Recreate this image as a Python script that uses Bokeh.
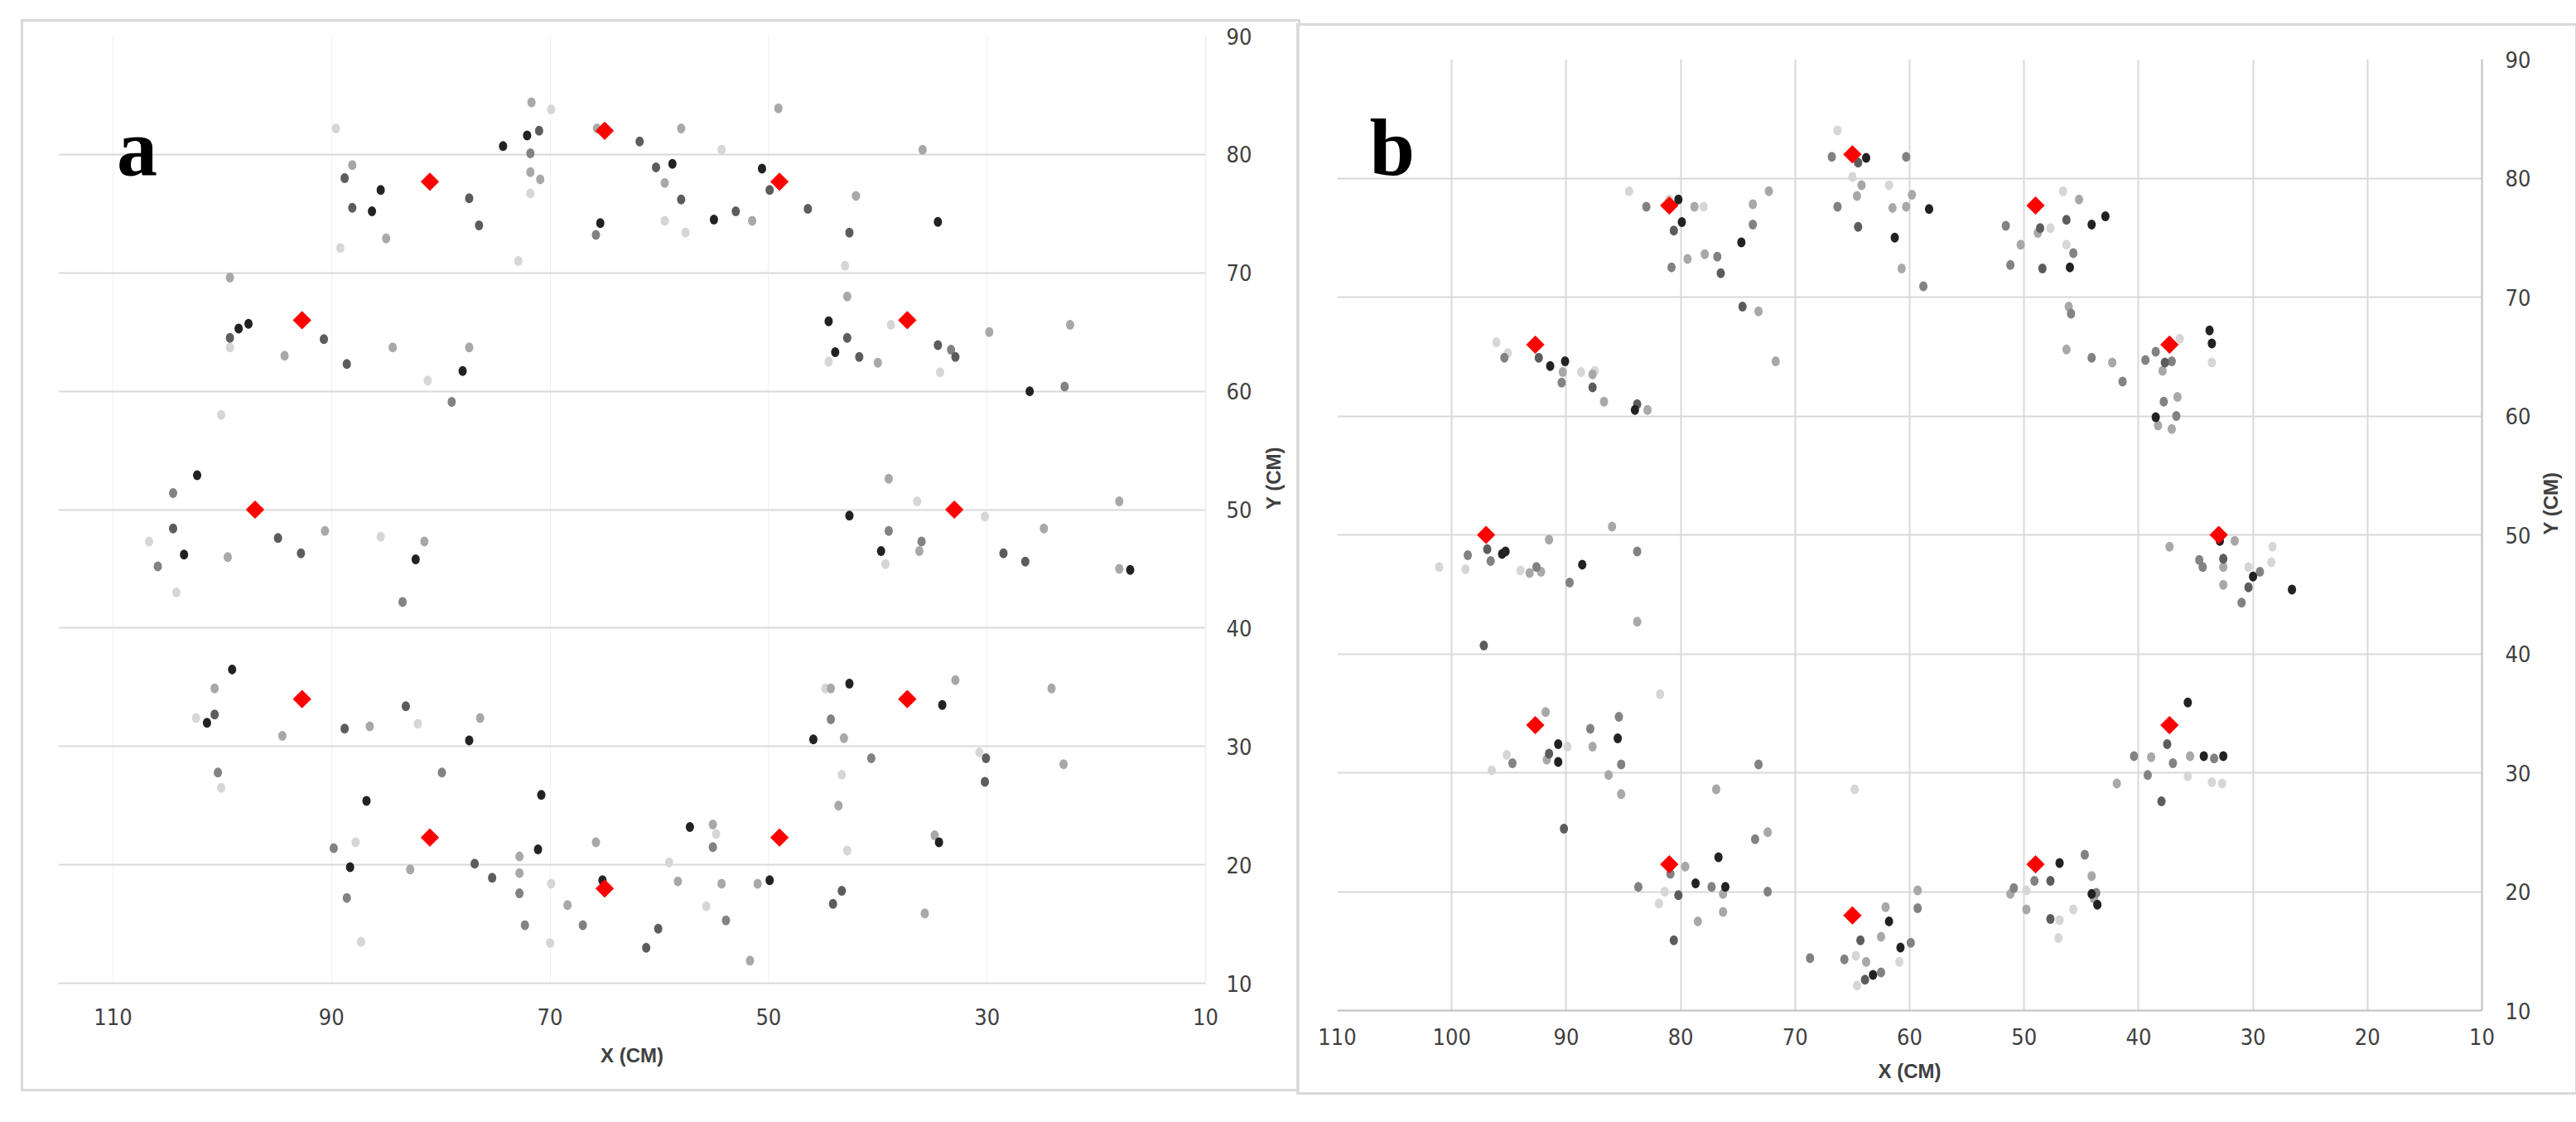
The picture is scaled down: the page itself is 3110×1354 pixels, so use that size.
import math
from bokeh.plotting import figure
from bokeh.models import FixedTicker, Range1d
from bokeh.core.properties import value
from bokeh.embed import file_html
from bokeh.resources import INLINE

# ---------------- data ----------------
# target positions (red diamonds), identical in both panels
TARGET_X = [65.0, 81.0, 49.0, 92.7, 37.3, 97.0, 33.0, 92.7, 37.3, 81.0, 49.0, 65.0]
TARGET_Y = [82.0, 77.7, 77.7, 66.0, 66.0, 50.0, 50.0, 34.0, 34.0, 22.3, 22.3, 18.0]

# panel a: responses grouped by grey shade (x, y) in cm
A_LIGHT = [(69.9, 83.8), (89.6, 82.2), (89.2, 72.1), (71.8, 76.7), (72.9, 71.0), (99.3, 63.7),
           (81.2, 60.9), (100.1, 58.0), (54.3, 80.4), (59.5, 74.4), (57.6, 73.4), (43.0, 70.6),
           (44.5, 62.5), (38.8, 65.6), (34.3, 61.6), (36.4, 50.7), (30.2, 49.4), (106.7, 47.3),
           (104.2, 43.0), (85.5, 47.7), (102.4, 32.4), (100.1, 26.5), (82.1, 31.9), (87.8, 21.9),
           (87.3, 13.5), (69.9, 18.4), (70.0, 13.4), (39.3, 45.4), (44.8, 34.9), (30.7, 29.5),
           (43.3, 27.6), (42.8, 21.2), (54.8, 22.6), (59.1, 20.2), (55.7, 16.5)]
A_MID = [(71.7, 84.4), (65.7, 82.2), (88.1, 79.1), (85.0, 72.9), (71.8, 78.5), (70.9, 77.9),
         (99.3, 69.6), (94.3, 63.0), (84.4, 63.7), (77.4, 63.7), (58.0, 82.2), (49.1, 83.9),
         (35.9, 80.4), (59.5, 77.6), (51.5, 74.4), (42.0, 76.5), (42.8, 68.0), (40.0, 62.4),
         (29.8, 65.0), (22.4, 65.6), (39.0, 52.6), (17.9, 50.7), (99.5, 46.0), (90.6, 48.2),
         (81.5, 47.3), (100.7, 34.9), (94.5, 30.9), (86.5, 31.7), (76.4, 32.4), (82.8, 19.6),
         (72.8, 20.7), (72.8, 19.3), (68.4, 16.6), (65.8, 21.9), (36.2, 46.5), (24.8, 48.4),
         (17.9, 45.0), (44.3, 34.9), (32.9, 35.6), (24.1, 34.9), (43.1, 30.7), (23.0, 28.5),
         (43.6, 25.0), (34.8, 22.5), (55.1, 23.4), (58.3, 18.6), (54.3, 18.4), (51.0, 18.4),
         (51.7, 11.9), (35.7, 15.9)]
A_DARKMID = [(71.8, 80.1), (65.8, 73.2), (79.0, 59.1), (104.5, 51.4), (33.3, 63.5), (22.9, 60.4),
             (105.9, 45.2), (83.5, 42.2), (100.4, 27.8), (79.9, 27.8), (89.8, 21.4), (88.6, 17.2),
             (72.8, 17.6), (72.3, 14.9), (67.0, 14.9), (39.0, 48.2), (36.0, 47.3), (44.3, 32.3),
             (40.6, 29.0), (55.1, 21.5), (53.9, 15.3)]
A_DARK = [(71.0, 82.0), (88.8, 78.0), (88.1, 75.5), (77.4, 76.3), (76.5, 74.0), (99.3, 64.5),
          (90.7, 64.4), (88.6, 62.3), (61.8, 81.1), (60.3, 78.9), (58.0, 76.2), (53.0, 75.2),
          (49.9, 77.0), (46.4, 75.4), (42.6, 73.4), (42.8, 64.5), (41.7, 62.9), (34.5, 63.9),
          (32.9, 62.9), (104.5, 48.4), (94.9, 47.6), (92.8, 46.3), (100.7, 32.7), (88.8, 31.5),
          (83.2, 33.4), (76.9, 20.1), (75.3, 18.9), (28.5, 46.3), (26.5, 45.6), (30.1, 29.0),
          (30.2, 27.0), (60.1, 14.6), (61.2, 13.0), (43.3, 17.8), (44.1, 16.7)]
A_BLACK = [(72.1, 81.6), (74.3, 80.7), (85.5, 77.0), (86.3, 75.2), (65.4, 74.2), (97.6, 65.7),
           (98.5, 65.3), (78.0, 61.7), (102.3, 52.9), (58.8, 79.2), (55.0, 74.5), (50.6, 78.8),
           (34.5, 74.3), (44.5, 65.9), (43.9, 63.3), (26.1, 60.0), (42.6, 49.5), (103.5, 46.2),
           (82.3, 45.8), (99.1, 36.5), (101.4, 32.0), (77.4, 30.5), (86.8, 25.4), (88.3, 19.8),
           (70.8, 25.9), (71.1, 21.3), (65.2, 18.7), (39.7, 46.5), (16.9, 44.9), (42.6, 35.3),
           (34.1, 33.5), (45.9, 30.6), (34.4, 21.9), (57.2, 23.2), (49.9, 18.7)]

# panel b
B_LIGHT = [(66.3, 84.0), (65.0, 80.1), (61.8, 79.4), (84.5, 78.9), (81.0, 78.2), (78.0, 77.6),
           (96.1, 66.2), (95.1, 65.3), (88.7, 63.7), (87.5, 63.8), (46.6, 78.9), (47.7, 75.8),
           (46.3, 74.4), (36.4, 66.5), (33.6, 64.5), (101.1, 47.3), (98.8, 47.1), (94.0, 47.0),
           (81.8, 36.6), (89.9, 32.2), (95.2, 31.5), (96.5, 30.2), (64.8, 28.6), (81.4, 20.0),
           (81.9, 19.0), (64.7, 14.6), (64.6, 12.1), (60.9, 14.1), (28.3, 49.0), (30.4, 47.3),
           (28.4, 47.7), (35.7, 29.7), (33.6, 29.2), (32.7, 29.1), (49.8, 20.1), (46.9, 17.6),
           (47.0, 16.1), (45.7, 18.5)]
B_MID = [(64.2, 79.4), (64.6, 78.5), (61.5, 77.5), (60.7, 72.4), (78.8, 77.6), (79.4, 73.2),
         (77.9, 73.6), (73.7, 77.8), (72.3, 78.9), (73.2, 68.8), (71.7, 64.6), (90.3, 63.7),
         (87.7, 63.5), (86.7, 61.2), (82.9, 60.5), (86.0, 50.7), (59.8, 78.6), (60.3, 77.6),
         (45.2, 78.2), (48.8, 75.4), (50.3, 74.4), (46.1, 69.2), (46.3, 65.6), (42.3, 64.5),
         (37.9, 63.8), (36.6, 61.6), (38.3, 59.2), (37.1, 58.9), (91.5, 49.6), (93.2, 46.8),
         (92.2, 46.9), (83.8, 42.7), (91.8, 35.1), (87.7, 32.2), (91.7, 31.1), (86.3, 29.8),
         (85.2, 28.2), (76.9, 28.6), (72.4, 25.0), (79.6, 22.1), (76.3, 19.8), (76.3, 18.3),
         (78.5, 17.5), (62.1, 18.7), (62.5, 16.2), (63.8, 14.1), (31.6, 49.5), (37.3, 49.0),
         (32.6, 47.3), (32.6, 45.8), (38.9, 31.3), (35.5, 31.4), (41.9, 29.1), (44.1, 21.3),
         (51.2, 19.8), (49.8, 18.5), (43.9, 19.4), (59.3, 20.1)]
B_DARKMID = [(66.8, 81.8), (66.3, 77.6), (83.0, 77.6), (80.8, 72.5), (76.8, 73.4), (73.7, 76.1),
             (95.4, 64.9), (90.4, 62.8), (60.3, 81.8), (58.8, 70.9), (51.6, 76.0), (45.7, 73.7),
             (51.2, 72.7), (45.9, 68.6), (44.1, 64.9), (41.4, 62.9), (39.4, 64.7), (38.5, 65.4),
             (37.1, 64.6), (37.8, 61.2), (36.7, 60.0), (98.6, 48.3), (96.6, 47.8), (92.6, 47.3),
             (83.8, 48.6), (89.7, 46.0), (85.4, 34.7), (87.9, 33.7), (94.7, 30.8), (85.2, 30.7),
             (73.2, 30.7), (73.5, 24.4), (80.9, 21.5), (83.7, 20.4), (77.3, 20.4), (72.4, 20.0),
             (68.7, 14.4), (65.7, 14.3), (62.5, 13.2), (34.7, 47.9), (34.4, 47.3), (29.4, 46.9),
             (31.0, 44.3), (40.4, 31.4), (37.0, 30.8), (33.4, 31.2), (39.2, 29.8), (44.7, 23.1),
             (49.1, 20.9), (50.9, 20.3), (43.7, 19.9), (59.3, 18.6), (59.9, 15.7)]
B_DARK = [(64.5, 81.3), (64.5, 75.9), (80.6, 75.6), (76.5, 72.0), (74.6, 69.2), (92.4, 64.9),
          (87.7, 62.4), (83.8, 61.0), (48.6, 75.8), (46.3, 76.5), (48.4, 72.4), (37.7, 64.5),
          (96.9, 48.8), (97.2, 40.7), (91.5, 31.6), (90.2, 25.3), (80.2, 19.7), (80.6, 15.9),
          (64.3, 15.9), (63.9, 12.6), (32.6, 48.0), (30.4, 45.6), (37.5, 32.4), (38.0, 27.6),
          (47.7, 20.9), (47.7, 17.7)]
B_BLACK = [(63.8, 81.7), (61.3, 75.0), (80.2, 78.2), (79.9, 76.3), (74.7, 74.6), (91.4, 64.2),
           (90.1, 64.6), (84.0, 60.5), (58.3, 77.4), (44.1, 76.1), (42.9, 76.8), (46.0, 72.5),
           (33.8, 67.2), (33.6, 66.1), (38.5, 59.9), (95.6, 48.4), (95.3, 48.6), (88.6, 47.5),
           (85.5, 32.9), (90.7, 32.4), (90.7, 30.9), (76.7, 22.9), (78.7, 20.7), (76.1, 20.4),
           (61.8, 17.5), (60.8, 15.3), (63.2, 13.0), (32.9, 49.5), (30.0, 46.5), (26.6, 45.4),
           (35.7, 35.9), (34.3, 31.4), (32.6, 31.4), (46.9, 22.4), (44.1, 19.8), (43.6, 18.9)]

X_TICKS_A = [110, 90, 70, 50, 30, 10]
X_TICKS_B = [110, 100, 90, 80, 70, 60, 50, 40, 30, 20, 10]
Y_TICKS = [10, 20, 30, 40, 50, 60, 70, 80, 90]

SHADES = ["#d6d6d6", "#a8a8a8", "#828282", "#5c5c5c", "#222222"]

TICK_FONT = "'Liberation Sans Narrow', 'DejaVu Sans Condensed', sans-serif"
TITLE_FONT = "'Liberation Sans', sans-serif"


def make_panel(groups, letter, letter_xy, x_range, ticks_x, frame, borders, pos,
               xgrid_color, axis_color, x_std, x_title_std, y_std, y_title_std):
    p = figure(x_range=Range1d(*x_range), y_range=Range1d(10, 90), title=None,
               frame_width=frame[0], frame_height=frame[1],
               min_border_left=borders[0], min_border_right=borders[1],
               min_border_top=borders[2], min_border_bottom=borders[3],
               y_axis_location="right", output_backend="svg", toolbar_location=None,
               background_fill_color="white", border_fill_color="white")
    p.outline_line_color = None
    p.styles = {"position": "absolute", "left": f"{pos[0]}px", "top": f"{pos[1]}px",
                "border": "3px solid #d9d9d9"}

    p.xaxis.ticker = FixedTicker(ticks=list(ticks_x))
    p.yaxis.ticker = FixedTicker(ticks=list(Y_TICKS))
    p.xgrid.ticker = FixedTicker(ticks=list(ticks_x))
    p.ygrid.ticker = FixedTicker(ticks=list(Y_TICKS))
    p.ygrid.grid_line_color = "#d9d9d9"
    p.ygrid.grid_line_width = 2
    p.xgrid.grid_line_color = xgrid_color
    p.xgrid.grid_line_width = 2 if xgrid_color == "#d9d9d9" else 1

    for ax in (p.xaxis[0], p.yaxis[0]):
        ax.major_tick_line_color = None
        ax.minor_tick_line_color = None
        ax.major_tick_out = 0
        ax.major_tick_in = 0
        ax.major_label_text_font = TICK_FONT
        ax.major_label_text_font_size = "27px"
        ax.major_label_text_color = "#404040"
        ax.axis_label_text_font = TITLE_FONT
        ax.axis_label_text_font_size = "24px"
        ax.axis_label_text_font_style = "bold"
        ax.axis_label_text_color = "#404040"
        ax.axis_line_width = 2
    p.xaxis.axis_line_color = axis_color[0]
    p.yaxis.axis_line_color = axis_color[1]
    p.xaxis.axis_label = "X (CM)"
    p.yaxis.axis_label = "Y (CM)"
    p.yaxis.axis_label_orientation = math.pi / 2
    p.xaxis.major_label_standoff = x_std
    p.xaxis.axis_label_standoff = x_title_std
    p.yaxis.major_label_standoff = y_std
    p.yaxis.axis_label_standoff = y_title_std

    for pts, col in zip(groups, SHADES):
        xs = [q[0] for q in pts]
        ys = [q[1] for q in pts]
        p.ellipse(x=xs, y=ys, width=10, height=12, width_units="screen",
                  height_units="screen", fill_color=col, line_color=None)

    p.scatter(x=list(TARGET_X), y=list(TARGET_Y), marker="square", angle=math.pi / 4,
              size=15, fill_color="#ff0000", line_color="#ff0000", line_width=1)

    # font size deliberately not "100px" (svg font parser mistakes it for a weight)
    p.text(x=[letter_xy[0]], y=[letter_xy[1]], text=[letter],
           text_font=value("Liberation Serif"), text_font_style="bold",
           text_font_size="98px", text_color="black", text_align="center",
           text_baseline="alphabetic")
    return p


pa = make_panel([A_LIGHT, A_MID, A_DARKMID, A_DARK, A_BLACK], "a", (107.8, 80.6),
                (115, 10), X_TICKS_A, (1385, 1143), (42, 95, 17, 128), (25, 23),
                "#f0f0f0", ("#d9d9d9", "#f0f0f0"), 30, 20, 25, 23)
pb = make_panel([B_LIGHT, B_MID, B_DARKMID, B_DARK, B_BLACK], "b", (105.2, 82.6),
                (110, 10), X_TICKS_B, (1382, 1148), (46, 96, 40, 99), (1565, 28),
                "#d9d9d9", ("#bfbfbf", "#bfbfbf"), 21, 15, 28, 21)

open("out.html", "w").write(file_html([pa, pb], INLINE))
